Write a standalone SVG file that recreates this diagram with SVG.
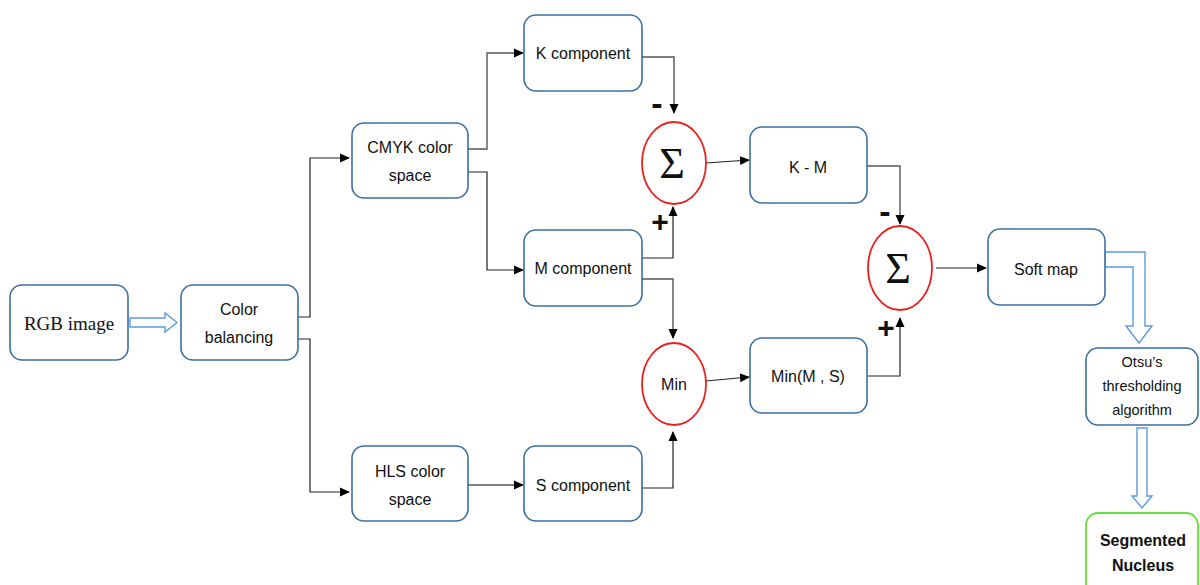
<svg xmlns="http://www.w3.org/2000/svg" width="1200" height="585" viewBox="0 0 1200 585">
<defs>
<marker id="ah" markerWidth="10" markerHeight="10" refX="9" refY="5" orient="auto" markerUnits="userSpaceOnUse">
<path d="M0,0.5 L10,5 L0,9.5 Z" fill="#000"/>
</marker>
<style>
.box{fill:#fff;stroke:#3a6fa5;stroke-width:1.6}
.green{fill:#fff;stroke:#66e03a;stroke-width:1.8}
.circ{fill:#fff;stroke:#e8201e;stroke-width:1.8}
.t{font-family:"Liberation Sans",Arial,sans-serif;font-size:16px;fill:#111;text-anchor:middle}
.s{font-size:14.5px}
.b{font-weight:bold}
.serif{font-family:"Liberation Serif","Times New Roman",serif;font-size:19px;fill:#111;text-anchor:middle}
.sig{font-family:"Liberation Serif","Times New Roman",serif;font-size:44px;fill:#111;text-anchor:middle}
.c{fill:none;stroke:#222;stroke-width:1.2}
.cg{fill:none;stroke:#555;stroke-width:1.4}
.hol{fill:#fff;stroke:#5b9be0;stroke-width:1.4}
.sign{font-family:"Liberation Sans",Arial,sans-serif;font-weight:bold;fill:#111;text-anchor:middle}
</style>
</defs>
<rect width="1200" height="585" fill="#fff"/>

<g id="connectors">
<path class="c" d="M298,317 H310 V158 H349" marker-end="url(#ah)"/>
<path class="c" d="M298,339 H310 V492 H349" marker-end="url(#ah)"/>
<path class="cg" d="M468,149 H487 V53 H523" marker-end="url(#ah)"/>
<path class="c" d="M468,172 H487 V270 H523" marker-end="url(#ah)"/>
<path class="cg" d="M642,57 H674 V113" marker-end="url(#ah)"/>
<path class="c" d="M642,258 H673 V207" marker-end="url(#ah)"/>
<path class="cg" d="M642,279 H673 V338" marker-end="url(#ah)"/>
<path class="c" d="M642,488 H673 V432" marker-end="url(#ah)"/>
<path class="cg" d="M468,485 H523" marker-end="url(#ah)"/>
<path class="c" d="M706,163 L749,160" marker-end="url(#ah)"/>
<path class="c" d="M706,381 L749,377" marker-end="url(#ah)"/>
<path class="cg" d="M867,166 H900 V224" marker-end="url(#ah)"/>
<path class="c" d="M867,376 H900 V318" marker-end="url(#ah)"/>
<path class="c" d="M936,268 H986" marker-end="url(#ah)"/>
<path class="hol" d="M130,318 H165 V313 L177,322.5 L165,332 V327 H130 Z"/>
<path class="hol" d="M1105,252 H1145 V326 H1152 L1139,343 L1126,326 H1133 V267 H1105 Z"/>
<path class="hol" d="M1137,428 H1147 V496 H1152 L1142,508 L1132,496 H1137 Z"/>
<text class="sign" x="657" y="115" font-size="34" transform="scale(1,1)">-</text>
<text class="sign" x="660" y="232" font-size="30">+</text>
<text class="sign" x="885" y="223" font-size="34">-</text>
<text class="sign" x="886" y="338" font-size="30">+</text>
</g>

<g id="rgb"><rect class="box" x="10" y="285" width="118" height="75" rx="12"/><text class="serif" x="69" y="330">RGB image</text></g>
<g id="colorbal"><rect class="box" x="181" y="285" width="117" height="75" rx="12"/><text class="t" x="239" y="315">Color</text><text class="t" x="239" y="343">balancing</text></g>
<g id="cmyk"><rect class="box" x="352" y="123" width="116" height="75" rx="12"/><text class="t" x="410" y="153">CMYK color</text><text class="t" x="410" y="181">space</text></g>
<g id="hls"><rect class="box" x="352" y="446" width="116" height="75" rx="12"/><text class="t" x="410" y="477">HLS color</text><text class="t" x="410" y="505">space</text></g>
<g id="kcomp"><rect class="box" x="524" y="15" width="118" height="76" rx="12"/><text class="t" x="583" y="59">K component</text></g>
<g id="mcomp"><rect class="box" x="524" y="230" width="118" height="76" rx="12"/><text class="t" x="583" y="274">M component</text></g>
<g id="scomp"><rect class="box" x="524" y="446" width="118" height="75" rx="12"/><text class="t" x="583" y="491">S component</text></g>
<g id="sum1"><ellipse class="circ" cx="674" cy="163" rx="32" ry="41"/><text class="sig" x="672" y="178">Σ</text></g>
<g id="min"><ellipse class="circ" cx="674" cy="384" rx="32" ry="41"/><text class="t" x="674" y="390">Min</text></g>
<g id="km"><rect class="box" x="750" y="127" width="117" height="76" rx="12"/><text class="t" x="808" y="173">K - M</text></g>
<g id="minms"><rect class="box" x="750" y="338" width="117" height="75" rx="12"/><text class="t" x="808" y="382">Min(M , S)</text></g>
<g id="sum2"><ellipse class="circ" cx="900" cy="268" rx="32" ry="42"/><text class="sig" x="898" y="283">Σ</text></g>
<g id="softmap"><rect class="box" x="988" y="229" width="117" height="76" rx="12"/><text class="t" x="1046" y="275">Soft map</text></g>
<g id="otsu"><rect class="box" x="1086" y="348" width="112" height="77" rx="12"/><text class="t s" x="1142" y="367">Otsu’s</text><text class="t s" x="1142" y="391">thresholding</text><text class="t s" x="1142" y="415">algorithm</text></g>
<g id="segmented"><rect class="green" x="1086" y="513" width="112" height="90" rx="12"/><text class="t b" x="1143" y="546">Segmented</text><text class="t b" x="1143" y="571">Nucleus</text></g>
</svg>
